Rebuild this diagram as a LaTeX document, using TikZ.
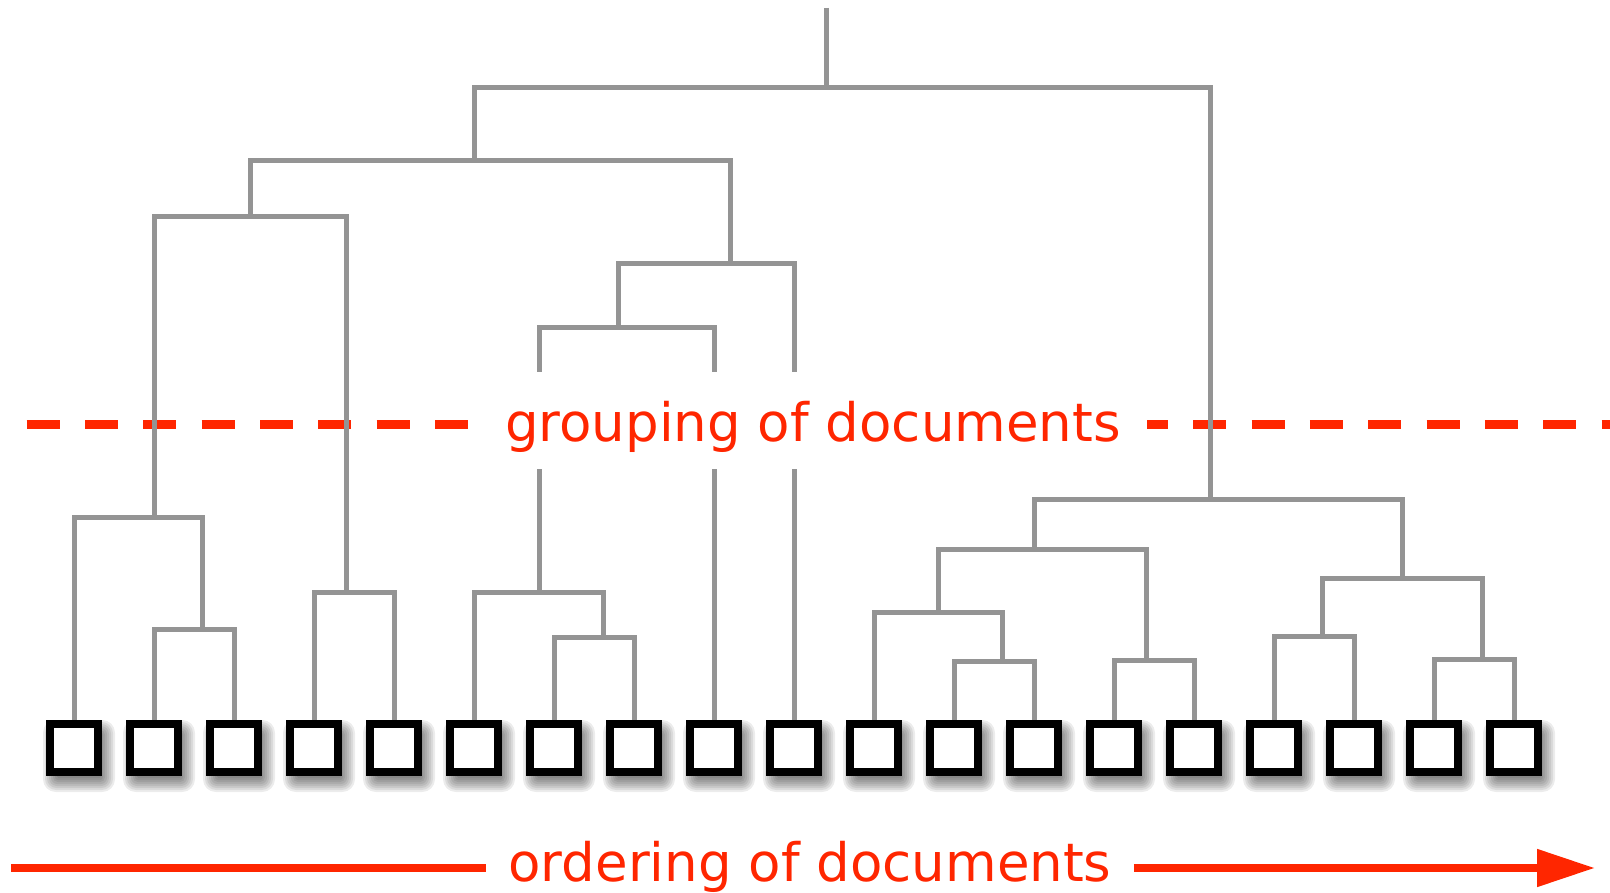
\documentclass[tikz,border=0pt]{standalone}
\usepackage{fontspec}
\setmainfont{DejaVu Sans}
\usetikzlibrary{arrows.meta}
\definecolor{tree}{RGB}{148,148,148}
\definecolor{accent}{RGB}{255,38,0}
\begin{document}
\begin{tikzpicture}[x=1pt,y=-1pt,
  branch/.style={draw=tree,line width=5pt},
  doc/.style={draw=black,fill=white,line width=8pt,minimum size=48pt,inner sep=0pt},
  softshade/.style={fill=black,fill opacity=0.075,rounded corners=#1},
  reddash/.style={draw=accent,line width=9pt,dash pattern=on 33pt off 25.33pt},
  redline/.style={draw=accent,line width=8pt},
  lbl/.style={text=accent,font=\fontsize{53pt}{60pt}\selectfont,anchor=base},
]
\fill[white] (0,0) rectangle (1610,893);
\useasboundingbox (0,0) rectangle (1610,893);

% grouping dashed line
\coordinate (gs) at (26.7,424);
\coordinate (ge) at (1612,424);
\draw[reddash] (gs) -- (ge);

% leaves with soft shadows
\foreach \i in {0,...,18}{
  \pgfmathsetmacro{\cx}{74+80*\i+5}
  \foreach \r in {22,24,...,36}{
    \fill[softshade={(\r-20)*0.8pt}] ({\cx-\r},{756-\r}) rectangle ({\cx+\r},{756+\r});
  }
  \node[doc] (L\i) at ({74+80*\i},748) {};
}

% junctions
\coordinate (top) at (826.7,8);
\coordinate (R) at (826.7,88);
\coordinate (A) at (474,161);
\coordinate (B) at (1210,499);
\coordinate (A1) at (250,217);
\coordinate (A2) at (730,264);
\coordinate (A1a) at (154,517);
\coordinate (A1ar) at (202,629);
\coordinate (A1b) at (346,592);
\coordinate (A2a) at (618,328);
\coordinate (A2al) at (539,592);
\coordinate (A2alr) at (603,637);
\coordinate (B1) at (1034,549);
\coordinate (B2) at (1402,578);
\coordinate (B1a) at (938,612);
\coordinate (B1ar) at (1002,661);
\coordinate (B1b) at (1146,660);
\coordinate (B2a) at (1322,636);
\coordinate (B2b) at (1482,659);

\draw[branch] (top) -- (R);
\draw[branch] (R) -| (A);   \draw[branch] (R) -| (B);
\draw[branch] (A) -| (A1);  \draw[branch] (A) -| (A2);
\draw[branch] (A1) -| (A1a); \draw[branch] (A1) -| (A1b);
\draw[branch] (A1a) -| (L0.north); \draw[branch] (A1a) -| (A1ar);
\draw[branch] (A1ar) -| (L1.north); \draw[branch] (A1ar) -| (L2.north);
\draw[branch] (A1b) -| (L3.north); \draw[branch] (A1b) -| (L4.north);
\draw[branch] (A2) -| (A2a); \draw[branch] (A2) -| (L9.north);
\draw[branch] (A2a) -| (A2al); \draw[branch] (A2a) -| (L8.north);
\draw[branch] (A2al) -| (L5.north); \draw[branch] (A2al) -| (A2alr);
\draw[branch] (A2alr) -| (L6.north); \draw[branch] (A2alr) -| (L7.north);
\draw[branch] (B) -| (B1); \draw[branch] (B) -| (B2);
\draw[branch] (B1) -| (B1a); \draw[branch] (B1) -| (B1b);
\draw[branch] (B1a) -| (L10.north); \draw[branch] (B1a) -| (B1ar);
\draw[branch] (B1ar) -| (L11.north); \draw[branch] (B1ar) -| (L12.north);
\draw[branch] (B1b) -| (L13.north); \draw[branch] (B1b) -| (L14.north);
\draw[branch] (B2) -| (B2a); \draw[branch] (B2) -| (B2b);
\draw[branch] (B2a) -| (L15.north); \draw[branch] (B2a) -| (L16.north);
\draw[branch] (B2b) -| (L17.north); \draw[branch] (B2b) -| (L18.north);

% grouping label
\node[lbl,fill=white,text height=70pt,text depth=27pt,inner xsep=26pt,inner ysep=0pt] (gt) at (813,442) {grouping of documents};

% ordering arrow
\coordinate (os) at (11,868);
\coordinate (oe) at (1595,868);
\node[lbl,inner xsep=22pt] (ot) at (810,881) {ordering of documents};
\draw[redline] (os) -- (ot.west |- os);
\draw[redline,-{Triangle[length=58pt,width=36pt]}] (ot.east |- os) -- (oe);
\end{tikzpicture}
\end{document}
